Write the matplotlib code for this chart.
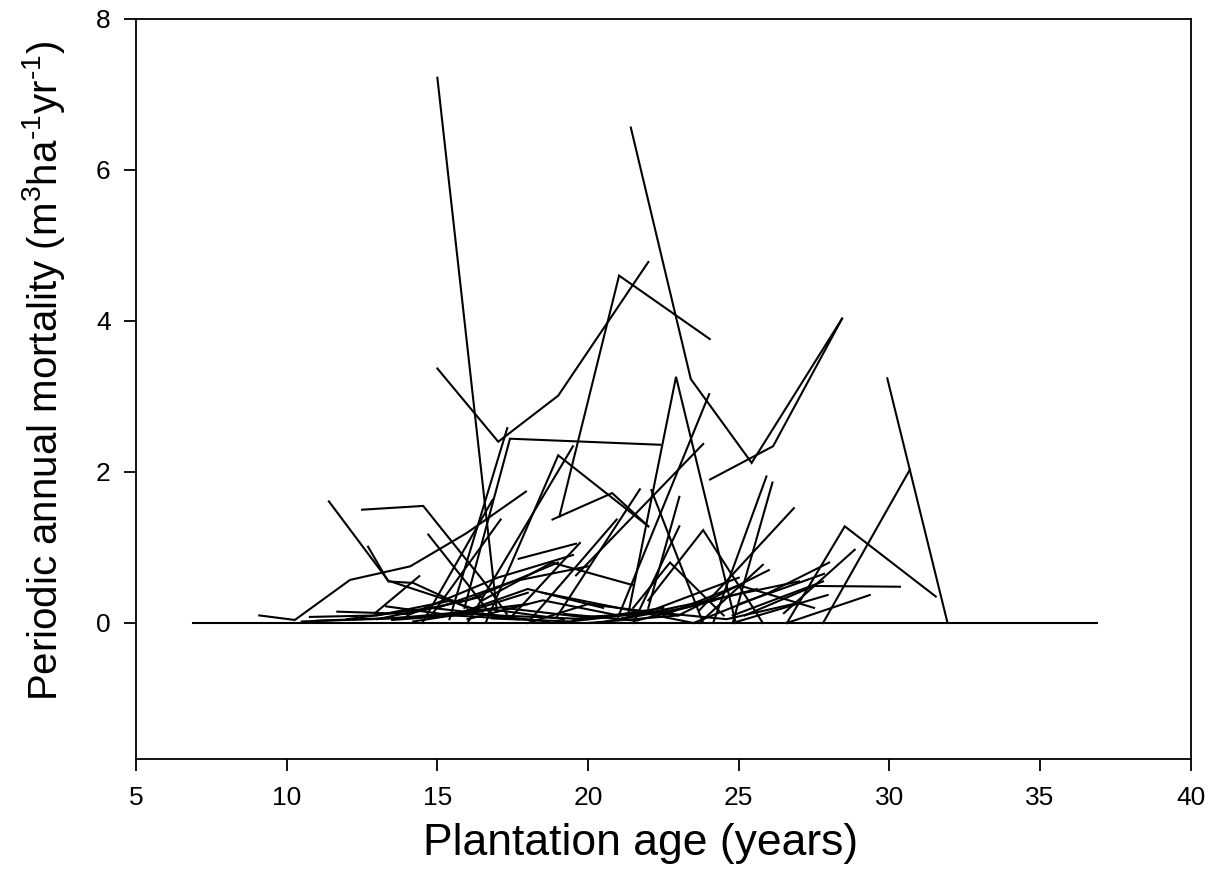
import matplotlib
matplotlib.use("Agg")
import matplotlib.pyplot as plt

# stand age (years) and periodic annual mortality (m3/ha/yr) for each plot
tall_ages = [
    [15.0, 16.97],
    [15.0, 17.02, 19.01, 22.0],
    [19.05, 21.03, 24.04],
    [21.42, 23.41, 25.43, 28.43],
    [24.05, 26.14, 28.43],
    [15.9, 17.41, 22.39],
    [21.3, 22.92, 24.9],
    [21.0, 24.02],
    [29.93, 31.93],
    [27.8, 30.68],
    [26.6, 28.52, 31.54],
    [25.2, 27.5, 30.35],
]
tall_mort = [
    [7.22, 0.17],
    [3.37, 2.40, 3.01, 4.78],
    [1.41, 4.60, 3.76],
    [6.56, 3.23, 2.12, 4.03],
    [1.90, 2.34, 4.03],
    [0.2, 2.44, 2.36],
    [0.05, 3.26, 0.0],
    [0.08, 3.03],
    [3.24, 0.0],
    [0.0, 2.03],
    [0.0, 1.28, 0.35],
    [0.1, 0.49, 0.48],
]

mid_ages = [
    [11.4, 13.37, 16.5],
    [12.5, 14.53, 16.52, 17.3],
    [9.09, 10.27, 12.1, 14.1, 15.97, 17.94],
    [12.7, 13.37, 14.2, 16.0],
    [14.7, 15.97, 16.8],
    [15.4, 17.32],
    [16.6, 19.01, 22.0],
    [18.82, 20.8, 22.0],
    [16.0, 19.5],
    [14.8, 17.1],
    [14.5, 16.83],
    [18.96, 21.72],
    [18.1, 20.95],
    [17.5, 19.73],
    [22.1, 23.8],
    [19.6, 23.82],
    [23.7, 26.83],
    [24.15, 25.92],
    [24.8, 26.12],
    [22.0, 23.82, 25.8],
    [26.5, 28.85],
    [26.6, 29.35],
    [24.8, 27.95],
    [24.8, 27.8],
    [25.0, 27.83],
    [23.7, 25.8],
    [22.0, 23.03],
    [21.5, 23.03],
    [21.5, 22.72, 24.5],
]
mid_mort = [
    [1.61, 0.56, 0.15],
    [1.50, 1.55, 0.56, 0.12],
    [0.10, 0.04, 0.57, 0.75, 1.19, 1.74],
    [1.01, 0.55, 0.53, 0.2],
    [1.17, 0.53, 0.1],
    [0.05, 2.58],
    [0.0, 2.22, 1.28],
    [1.37, 1.72, 1.28],
    [0.0, 2.34],
    [0.1, 1.37],
    [0.0, 1.63],
    [0.08, 1.77],
    [0.05, 1.37],
    [0.1, 1.06],
    [1.76, 0.02],
    [0.63, 2.37],
    [0.17, 1.52],
    [0.0, 1.94],
    [0.0, 1.86],
    [0.3, 1.23, 0.0],
    [0.13, 0.97],
    [0.0, 0.37],
    [0.0, 0.37],
    [0.1, 0.55],
    [0.25, 0.65],
    [0.0, 0.77],
    [0.2, 1.67],
    [0.0, 1.28],
    [0.2, 0.80, 0.1],
]

low_ages = [
    [6.9, 36.9],
    [10.77, 13.0, 15.5],
    [11.68, 14.0, 16.5],
    [12.93, 14.4],
    [13.3, 15.5, 17.7],
    [10.5, 13.5, 16.0, 18.0],
    [13.0, 16.0, 19.0],
    [14.0, 17.0, 19.5],
    [15.0, 17.5, 20.0],
    [16.0, 18.5, 21.0],
    [17.0, 20.0, 22.5],
    [18.0, 20.0, 23.0],
    [19.5, 22.0, 25.0],
    [20.0, 23.0, 26.0],
    [21.0, 24.0, 27.0],
    [22.5, 25.0, 27.5],
    [23.5, 26.0, 28.0],
    [12.0, 14.8, 17.0],
    [16.5, 18.8, 21.5],
    [18.5, 21.0, 23.5],
    [17.7, 19.6],
    [11.0, 14.5, 18.0],
    [15.5, 18.0, 20.5],
    [14.2, 16.8, 19.2],
    [16.8, 19.4, 22.3],
    [19.2, 21.6, 24.2],
    [20.6, 23.2, 25.6],
    [22.0, 24.6, 26.8],
    [13.5, 16.2, 18.7],
    [17.2, 19.8, 21.9],
]
low_mort = [
    [0.0, 0.0],
    [0.08, 0.10, 0.30],
    [0.15, 0.12, 0.35],
    [0.13, 0.62],
    [0.22, 0.10, 0.05],
    [0.02, 0.06, 0.15, 0.40],
    [0.05, 0.30, 0.80],
    [0.10, 0.60, 0.90],
    [0.20, 0.55, 0.75],
    [0.05, 0.30, 0.10],
    [0.10, 0.05, 0.20],
    [0.0, 0.25, 0.10],
    [0.05, 0.15, 0.60],
    [0.0, 0.10, 0.70],
    [0.05, 0.30, 0.55],
    [0.10, 0.50, 0.20],
    [0.0, 0.40, 0.80],
    [0.05, 0.20, 0.10],
    [0.30, 0.80, 0.50],
    [0.40, 0.20, 0.0],
    [0.85, 1.05],
    [0.03, 0.08, 0.25],
    [0.10, 0.45, 0.20],
    [0.02, 0.18, 0.05],
    [0.06, 0.02, 0.15],
    [0.12, 0.03, 0.30],
    [0.02, 0.20, 0.45],
    [0.15, 0.05, 0.25],
    [0.04, 0.12, 0.02],
    [0.20, 0.08, 0.12],
]


def main():
    plt.rcParams['font.family'] = ['Liberation Sans', 'DejaVu Sans']
    plt.rcParams['mathtext.fontset'] = 'custom'
    plt.rcParams['mathtext.rm'] = 'Liberation Sans'
    plt.rcParams['mathtext.default'] = 'regular'

    fig = plt.figure(figsize=(12.2, 8.96), dpi=100)
    ax = fig.add_axes([0.1115, 0.153, 0.8645, 0.826])

    for ages, mort in zip(tall_ages + mid_ages + low_ages,
                          tall_mort + mid_mort + low_mort):
        ax.plot(ages, mort, color='black', linewidth=1.5,
                solid_joinstyle='miter')

    ax.set_xlim(5, 40)
    ax.set_ylim(-1.8, 8)
    ax.set_xticks(range(5, 41, 5))
    ax.set_yticks([0, 2, 4, 6, 8])
    ax.tick_params(direction='out', length=8.3, width=1.3, labelsize=19)
    ax.tick_params(axis='x', pad=11)
    ax.tick_params(axis='y', pad=10)
    for sp in ax.spines.values():
        sp.set_linewidth(1.3)

    ax.set_xlabel("Plantation age (years)", fontsize=32)
    ax.set_ylabel(r"Periodic annual mortality (m$^3$ha$^{\text{-}1}$yr$^{\text{-}1}$)",
                  fontsize=29)
    ax.xaxis.set_label_coords(0.478, -0.087)
    ax.yaxis.set_label_coords(-0.065, 0.524)

    fig.savefig("out.png", dpi=100)


if __name__ == '__main__':
    main()
